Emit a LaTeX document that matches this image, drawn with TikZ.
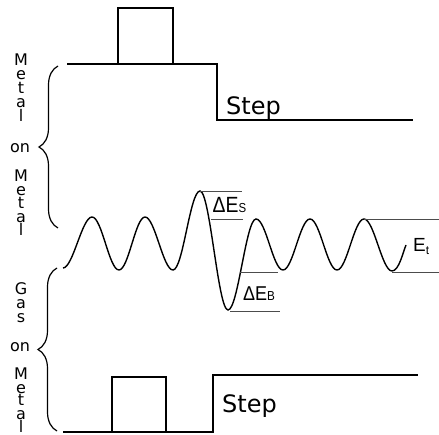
\documentclass[tikz,border=0pt]{standalone}
\usepackage{fontspec}
\usepackage{graphicx}
\setmainfont{DejaVu Sans}
\newfontfamily\arialfont{Liberation Sans}
\usetikzlibrary{decorations.pathreplacing}
\begin{document}
\begin{tikzpicture}[x=1pt,y=-1pt,
  thickline/.style={line width=2.8pt,line join=miter},
  boxline/.style={line width=1.4pt},
  waveline/.style={line width=1.4pt},
  thinline/.style={line width=0.8pt,black!70},
  bracestyle/.style={line width=1.2pt,decorate,decoration={brace,amplitude=19pt}},
  sidelbl/.style={anchor=base,inner sep=0pt,text height=10pt,text depth=0pt,font=\fontsize{16}{16}\selectfont},
  steplbl/.style={anchor=base west,inner sep=0pt,font=\fontsize{24}{24}\selectfont},
  elbl/.style={anchor=base west,inner sep=0pt}]
\useasboundingbox (0,0) rectangle (439,435);

% top step (metal on metal)
\draw[thickline] (67,64) -- (217,64) -- (217,120) -- (413,120);
\draw[boxline] (118,64) -- (118,8) -- (173,8) -- (173,64);
\node[steplbl] (steptop) at (226,115) {Step};

% bottom step (gas on metal)
\draw[thickline] (63,432) -- (213,432) -- (213,375) -- (418,375);
\draw[boxline] (112,432) -- (112,377) -- (166,377) -- (166,432);
\node[steplbl] (stepbot) at (222,412) {Step};

% energy curve
\draw[waveline] (63,268)
  .. controls +(10,0) and +(-10,0) .. (92,217)
  .. controls +(10,0) and +(-10,0) .. (119,270)
  .. controls +(9.5,0) and +(-9.5,0) .. (145,217)
  .. controls +(10,0) and +(-10,0) .. (173,270)
  .. controls +(10,0) and +(-10,0) .. (200,191)
  .. controls +(10,0) and +(-10,0) .. (228,310)
  .. controls +(10,0) and +(-10,0) .. (256,219)
  .. controls +(10,0) and +(-10,0) .. (283,270)
  .. controls +(10,0) and +(-10,0) .. (310,219)
  .. controls +(10,0) and +(-10,0) .. (337,270)
  .. controls +(10,0) and +(-10,0) .. (364,219)
  .. controls +(10,0) and +(-10,0) .. (392,271)
  .. controls +(7,0) and +(-3,7) .. (406,245);

% energy reference lines
\draw[thinline] (200,191) -- (242,191);
\draw[thinline] (211,219) -- (243,219);
\draw[thinline] (240,272) -- (278,272);
\draw[thinline] (230,311) -- (280,311);
\draw[thinline] (364,219) -- (439,219);
\draw[thinline] (392,272) -- (439,272);

\node[elbl] (des) at (212.5,213) {\arialfont\scalebox{0.88}[1]{\fontsize{22}{22}\selectfont ΔE\fontsize{13}{13}\selectfont S}};
\node[elbl] (deb) at (243,301) {\arialfont\scalebox{0.9}[1]{\fontsize{20}{20}\selectfont ΔE\fontsize{13}{13}\selectfont B}};
\node[elbl] (et) at (413,252) {\arialfont\fontsize{19}{19}\selectfont E\raisebox{-3pt}{\fontsize{12}{12}\selectfont t}};

% braces
\draw[bracestyle] (58,228) -- (58,66);
\draw[bracestyle] (57,431) -- (57,268);

% side labels
\foreach \ch/\yy [count=\i] in {M/66,e/80,t/94,a/108,l/122}
  \node[sidelbl] (ma\i) at (21,\yy) {\ch};
\node[sidelbl] (ona) at (20,153) {on};
\foreach \ch/\yy [count=\i] in {M/182,e/195.5,t/209,a/222.5,l/236}
  \node[sidelbl] (mb\i) at (21,\yy) {\ch};
\foreach \ch/\yy [count=\i] in {G/295,a/309,s/323}
  \node[sidelbl] (ga\i) at (21,\yy) {\ch};
\node[sidelbl] (onb) at (20,352) {on};
\foreach \ch/\yy [count=\i] in {M/380,e/393,t/406,a/419,l/432}
  \node[sidelbl] (mc\i) at (21,\yy) {\ch};
\end{tikzpicture}
\end{document}
